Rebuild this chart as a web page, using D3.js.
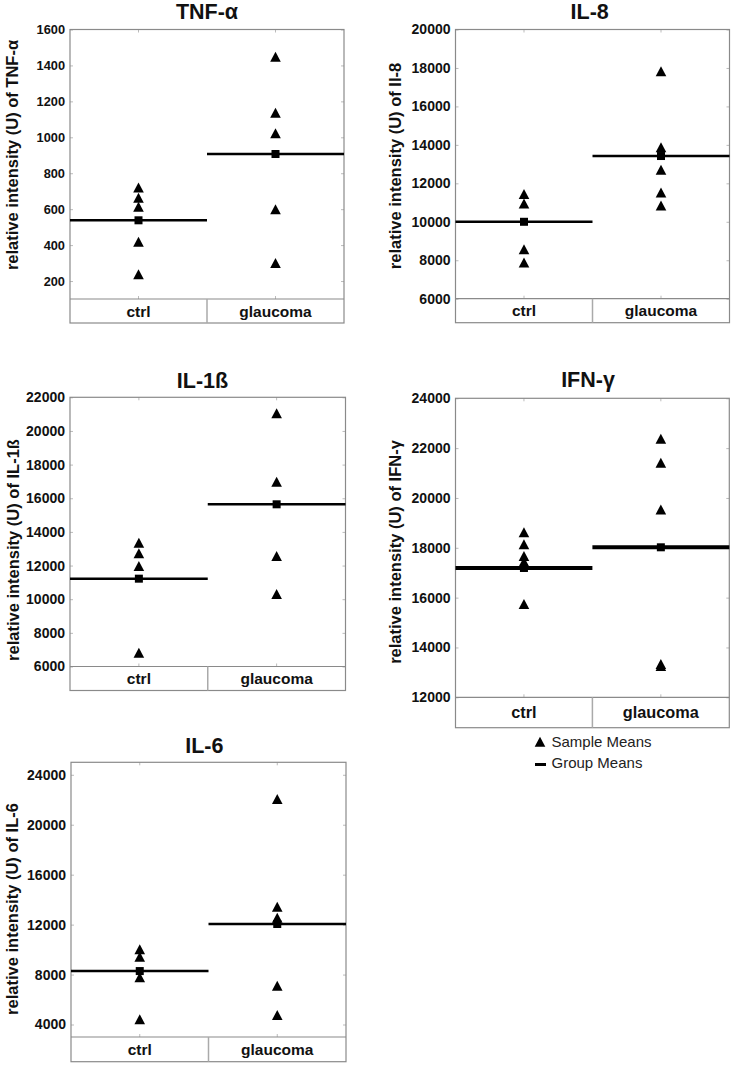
<!DOCTYPE html>
<html>
<head>
<meta charset="utf-8">
<script src="https://cdn.jsdelivr.net/npm/d3@7"></script>
<style>
  html, body { margin: 0; padding: 0; background: #fff; }
  svg { display: block; font-family: "Liberation Sans", Arial, sans-serif; }
</style>
</head>
<body>
<svg id="chart" width="734" height="1066"></svg>
<script>
// ---------- data ----------
const categories = ["ctrl", "glaucoma"];

const tnfCtrl = [720, 664, 614, 419, 238];
const tnfGlaucoma = [1449, 1137, 1022, 599, 301];
const tnfMeans = [538, 907];
const tnfTicks = [200, 400, 600, 800, 1000, 1200, 1400, 1600];

const il8Ctrl = [11450, 10950, 8570, 7880];
const il8Glaucoma = [17830, 13870, 12710, 11520, 10850];
const il8Means = [10000, 13420];
const il8Ticks = [6000, 8000, 10000, 12000, 14000, 16000, 18000, 20000];

const il1bCtrl = [13360, 12730, 11970, 6820];
const il1bGlaucoma = [21050, 16980, 12570, 10310];
const il1bMeans = [11220, 15640];
const il1bTicks = [6000, 8000, 10000, 12000, 14000, 16000, 18000, 20000, 22000];

const ifngCtrl = [18620, 18140, 17670, 17440, 15740];
const ifngGlaucoma = [22380, 21410, 19540, 13340, 13260];
const ifngMeans = [17190, 18020];
const ifngTicks = [12000, 14000, 16000, 18000, 20000, 22000, 24000];

const il6Ctrl = [10020, 9430, 7780, 4420];
const il6Glaucoma = [22060, 13430, 12550, 7110, 4760];
const il6Means = [8280, 12050];
const il6Ticks = [4000, 8000, 12000, 16000, 20000, 24000];

const legendLabels = ["Sample Means", "Group Means"];

// ---------- layout ----------
const panels = [
  { title: "TNF-α", ylabel: "relative intensity (U) of TNF-α", ctrl: tnfCtrl, glau: tnfGlaucoma, means: tnfMeans, ticks: tnfTicks,
    domain: [100, 1600], left: 70, right: 344, top: 29.5, bottom: 299, catBottom: 323,
    titleX: 207, titleY: 18.5, labX: 12.5, labY: 155, tickFont: 12.8, lineW: 2.5 },
  { title: "IL-8", ylabel: "relative intensity (U) of Il-8", ctrl: il8Ctrl, glau: il8Glaucoma, means: il8Means, ticks: il8Ticks,
    domain: [6000, 20000], left: 455.5, right: 729.5, top: 29.5, bottom: 298.7, catBottom: 322.7,
    titleX: 589.7, titleY: 18.5, labX: 395, labY: 166, tickFont: 14, lineW: 2.5 },
  { title: "IL-1ß", ylabel: "relative intensity (U) of IL-1ß", ctrl: il1bCtrl, glau: il1bGlaucoma, means: il1bMeans, ticks: il1bTicks,
    domain: [6000, 22000], left: 70, right: 345.5, top: 397.3, bottom: 666.5, catBottom: 690.5,
    titleX: 202.5, titleY: 388.3, labX: 13.3, labY: 550, tickFont: 14, lineW: 2.5 },
  { title: "IFN-γ", ylabel: "relative intensity (U) of IFN-γ", ctrl: ifngCtrl, glau: ifngGlaucoma, means: ifngMeans, ticks: ifngTicks,
    domain: [12000, 24000], left: 455.5, right: 729.3, top: 398.3, bottom: 697.3, catBottom: 727.7,
    titleX: 588, titleY: 387, labX: 395, labY: 552, tickFont: 14, lineW: 4 },
  { title: "IL-6", ylabel: "relative intensity (U) of IL-6", ctrl: il6Ctrl, glau: il6Glaucoma, means: il6Means, ticks: il6Ticks,
    domain: [3000, 25000], left: 71, right: 346, top: 762.3, bottom: 1037, catBottom: 1061.7,
    titleX: 204.3, titleY: 752.5, labX: 11.7, labY: 909, tickFont: 14, lineW: 2.5 }
];

const svg = d3.select("#chart");
const frameColor = "#8a8a8a";
const triPath = "M-5.3,5L5.3,5L0,-5Z";

panels.forEach(p => {
  const g = svg.append("g");
  const y = d3.scaleLinear().domain(p.domain).range([p.bottom, p.top]);
  const x = d3.scaleBand().domain(categories).range([p.left, p.right]);

  const ya = g.append("g").attr("transform", `translate(${p.left},0)`)
    .call(d3.axisLeft(y).tickValues(p.ticks).tickSize(-3).tickPadding(5).tickFormat(d3.format("d")));
  ya.select(".domain").remove();
  ya.selectAll(".tick line").attr("stroke", "#bbb");
  ya.selectAll(".tick text").attr("fill", "#111").attr("font-weight", "bold")
    .attr("font-size", p.tickFont).attr("font-family", "Liberation Sans, Arial, sans-serif");

  const yr = g.append("g").attr("transform", `translate(${p.right},0)`)
    .call(d3.axisRight(y).tickValues(p.ticks).tickSize(-3).tickFormat(""));
  yr.select(".domain").remove();
  yr.selectAll(".tick line").attr("stroke", "#bbb");

  const xt = g.append("g").attr("transform", `translate(0,${p.top})`)
    .call(d3.axisTop(x).tickSize(-3).tickFormat(""));
  xt.select(".domain").remove();
  xt.selectAll(".tick line").attr("stroke", "#bbb");

  const boxMid = (p.bottom + p.catBottom) / 2;
  const xb = g.append("g").attr("transform", `translate(0,${p.bottom})`)
    .call(d3.axisBottom(x).tickSize(-3).tickPadding(0));
  xb.select(".domain").remove();
  xb.selectAll(".tick line").attr("stroke", "#bbb");
  xb.selectAll(".tick text")
    .attr("y", boxMid - p.bottom).attr("dy", "0.36em")
    .attr("fill", "#111").attr("font-weight", "bold")
    .attr("font-size", p.catBottom - p.bottom > 27 ? 16.3 : 15.5)
    .attr("font-family", "Liberation Sans, Arial, sans-serif");

  g.append("rect").attr("x", p.left).attr("y", p.top)
    .attr("width", p.right - p.left).attr("height", p.catBottom - p.top)
    .attr("fill", "none").attr("stroke", frameColor).attr("stroke-width", 1.2);
  g.append("line").attr("x1", p.left).attr("x2", p.right).attr("y1", p.bottom).attr("y2", p.bottom)
    .attr("stroke", frameColor).attr("stroke-width", 1.2);
  g.append("line").attr("x1", x("glaucoma")).attr("x2", x("glaucoma")).attr("y1", p.bottom).attr("y2", p.catBottom)
    .attr("stroke", "#aaa").attr("stroke-width", 1.5);

  g.selectAll(".meanline").data(categories).enter().append("line")
    .attr("x1", d => x(d)).attr("x2", d => x(d) + x.bandwidth())
    .attr("y1", (d, i) => y(p.means[i])).attr("y2", (d, i) => y(p.means[i]))
    .attr("stroke", "#000").attr("stroke-width", p.lineW);

  g.selectAll(".sq").data(categories).enter().append("rect")
    .attr("x", d => x(d) + x.bandwidth() / 2 - 4)
    .attr("y", (d, i) => y(p.means[i]) - 4)
    .attr("width", 8).attr("height", 8).attr("fill", "#000");

  const pts = [];
  p.ctrl.forEach(v => pts.push({ c: "ctrl", v }));
  p.glau.forEach(v => pts.push({ c: "glaucoma", v }));
  g.selectAll(".tri").data(pts).enter().append("path")
    .attr("d", triPath)
    .attr("transform", d => `translate(${x(d.c) + x.bandwidth() / 2},${y(d.v)})`)
    .attr("fill", "#000");

  g.append("text").attr("x", p.titleX).attr("y", p.titleY)
    .attr("text-anchor", "middle").attr("font-weight", "bold").attr("font-size", 21.5)
    .attr("fill", "#111").text(p.title);

  g.append("text")
    .attr("transform", `translate(${p.labX},${p.labY}) rotate(-90)`)
    .attr("text-anchor", "middle").attr("dy", "0.36em")
    .attr("font-weight", "bold").attr("font-size", 16.5).attr("fill", "#111")
    .text(p.ylabel);
});

const lg = svg.append("g");
lg.append("path").attr("d", triPath).attr("transform", "translate(540,741.7)").attr("fill", "#000");
lg.append("rect").attr("x", 535).attr("y", 763).attr("width", 11).attr("height", 3).attr("fill", "#000");
lg.selectAll(".lt").data(legendLabels).enter().append("text")
  .attr("x", 551.5).attr("y", (d, i) => 742 + i * 20.5).attr("dy", "0.36em")
  .attr("font-size", 15).attr("fill", "#222").text(d => d);
</script>
</body>
</html>
